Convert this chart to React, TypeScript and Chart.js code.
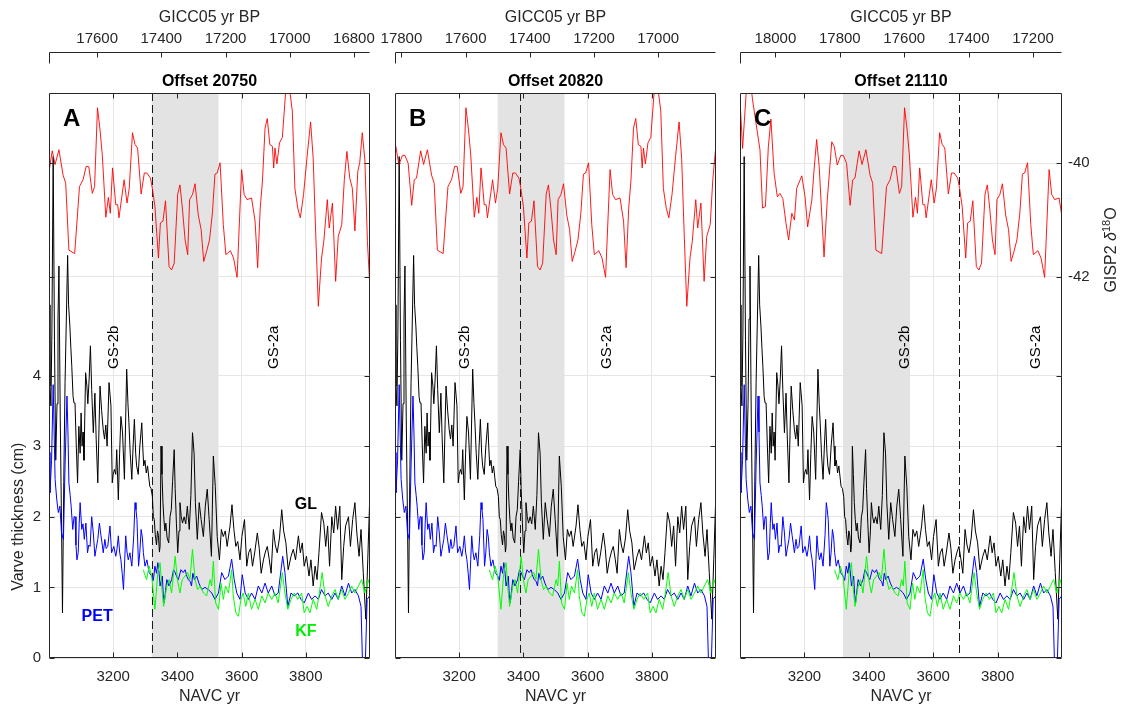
import React, { useEffect, useRef } from 'react';
import { Chart, registerables } from 'chart.js';
Chart.register(...registerables);

const FONT = "'Liberation Sans', Arial, Helvetica, sans-serif";
Chart.defaults.font.family = FONT;

// ---------- panel definitions ----------
const PANEL_LETTERS = ['A', 'B', 'C'];
const OFFSETS = [20750, 20820, 21110];
const PANEL_TITLES = ['Offset 20750', 'Offset 20820', 'Offset 21110'];
const GICC_TICKS = [
  [17600, 17400, 17200, 17000, 16800],
  [17800, 17600, 17400, 17200, 17000],
  [18000, 17800, 17600, 17400, 17200],
];
const NAVC_RANGE = [3000, 4000];
const NAVC_TICKS = [3200, 3400, 3600, 3800];
const VARVE_RANGE = [0, 8];
const VARVE_TICKS = [0, 1, 2, 3, 4];
const D18O_RANGE = [-48.72, -38.76];
const D18O_TICKS = [-42, -40];
const GS2_BOUNDARY_GICC = 17430;
const SHADE_NAVC = [3320, 3528];
const GS2B_LABEL_NAVC = [3203, 3218, 3511];
const GS2A_LABEL_NAVC = [3701, 3660, 3919];
const GS_LABEL_VALUE = 4.4;
const SERIES_LABELS = ['GL', 'PET', 'KF'];
const SERIES_LABEL_NAVC = [3800, 3150, 3800];
const SERIES_LABEL_VALUE = [2.17, 0.58, 0.375];

// ---------- data ----------
const GL_YR = [3000,3003,3006,3009,3013,3017,3021,3025,3028,3031,3035,3039,3042,3046,3050,3054,3058,3061,3065,3068,3071,3075,3078,3081,3085,3089,3093,3097,3100,3103,3106,3109,3114,3118,3121,3125,3129,3133,3138,3143,3147,3152,3156,3159,3164,3169,3173,3177,3181,3187,3193,3197,3200,3204,3208,3211,3216,3220,3224,3229,3235,3238,3242,3246,3249,3253,3258,3262,3266,3270,3273,3278,3283,3289,3292,3295,3299,3303,3307,3311,3314,3318,3322,3325,3328,3331,3335,3338,3341,3344,3346,3349,3352,3355,3358,3361,3364,3368,3373,3377,3381,3385,3390,3393,3397,3401,3405,3408,3412,3416,3421,3426,3431,3437,3442,3447,3452,3456,3462,3468,3474,3481,3487,3493,3499,3506,3512,3518,3524,3531,3537,3543,3549,3555,3564,3570,3576,3582,3588,3595,3601,3609,3616,3622,3628,3634,3641,3649,3655,3661,3668,3674,3680,3686,3692,3699,3705,3711,3718,3725,3731,3738,3745,3754,3761,3768,3777,3783,3789,3795,3802,3810,3816,3823,3829,3835,3841,3849,3856,3862,3868,3874,3881,3887,3893,3899,3906,3912,3918,3924,3933,3939,3946,3953,3959,3966,3972,3979,3987,3993,3999];
const GL_CM = [5.0,3.85,3.57,4.6,7.1,4.5,2.8,3.6,4.8,5.55,3.4,1.9,0.64,2.5,3.9,4.8,5.7,5.0,4.7,4.4,4.13,3.7,3.61,3.61,3.0,2.48,3.28,2.9,3.47,3.0,3.2,2.8,4.04,3.85,3.6,3.95,4.42,3.8,3.19,3.75,3.1,2.48,3.3,3.85,3.5,3.23,3.1,3.3,3.0,3.9,3.57,2.48,2.6,2.67,2.6,2.95,2.24,2.9,3.42,3.2,2.53,3.2,4.09,3.6,3.33,2.9,2.53,3.0,3.38,2.9,2.72,2.6,3.0,3.33,3.0,2.72,2.8,2.62,2.72,2.55,2.43,2.4,2.29,2.0,1.96,1.75,1.6,1.8,1.73,1.5,1.58,3.0,2.6,2.2,1.96,1.8,1.91,1.7,1.63,2.0,2.1,2.5,2.95,2.4,1.9,1.49,1.8,2.2,2.0,1.91,2.0,1.9,2.15,1.82,2.3,3.19,2.9,2.2,1.68,2.2,1.96,1.72,2.15,2.39,1.96,1.44,2.86,2.43,1.72,1.39,1.82,1.72,1.8,1.58,1.87,2.17,1.82,1.58,1.65,1.39,1.72,1.96,1.3,1.49,1.55,1.3,1.5,1.77,1.55,1.2,1.39,1.5,1.58,1.4,1.2,1.82,1.6,1.49,1.7,2.1,1.8,1.63,1.25,1.44,1.54,1.39,1.73,1.49,1.63,1.3,1.44,1.16,1.39,1.02,1.3,1.11,1.49,2.06,1.91,1.58,1.87,1.3,2.0,1.77,2.15,1.82,2.15,1.11,1.58,1.87,2.0,1.58,1.96,2.2,1.77,1.44,1.82,1.21,0.55,1.39,2.24];

const PET_YR = [3000,3003,3008,3013,3016,3019,3024,3029,3034,3039,3045,3050,3056,3059,3062,3066,3069,3074,3078,3081,3084,3087,3091,3094,3097,3102,3106,3110,3115,3120,3124,3128,3133,3138,3143,3147,3152,3157,3162,3166,3169,3174,3178,3183,3190,3195,3202,3208,3212,3216,3220,3224,3228,3232,3236,3239,3243,3247,3252,3258,3264,3268,3271,3274,3279,3283,3287,3291,3294,3299,3305,3312,3320,3325,3330,3335,3339,3343,3346,3350,3353,3356,3359,3363,3367,3374,3382,3388,3393,3398,3403,3411,3418,3424,3430,3434,3440,3444,3448,3453,3460,3467,3476,3486,3496,3507,3517,3528,3538,3548,3559,3569,3577,3585,3595,3602,3611,3621,3631,3642,3652,3663,3673,3683,3694,3704,3714,3728,3735,3744,3754,3764,3775,3785,3795,3808,3818,3829,3839,3849,3860,3870,3881,3891,3901,3912,3922,3933,3943,3953,3964,3972,3978,3984,3991,3999];
const PET_CM = [2.91,2.34,2.8,3.87,3.2,2.53,2.25,2.06,2.15,1.77,1.68,2.72,3.71,3.2,2.48,2.3,2.15,1.82,2.0,2.0,1.6,1.39,1.49,1.9,2.2,1.82,1.9,1.68,1.91,1.49,1.6,1.58,2.0,1.77,1.44,1.55,1.68,1.91,1.73,1.6,1.49,1.68,1.55,1.58,1.87,1.49,1.58,1.44,1.55,1.73,1.5,1.39,1.2,0.97,1.4,1.73,1.5,1.39,1.49,1.3,1.73,2.2,2.1,1.96,1.3,1.5,1.82,1.7,1.49,1.3,1.39,1.21,1.16,1.1,1.3,1.2,1.35,1.2,1.02,1.1,1.16,0.9,0.78,0.95,1.11,1.02,1.11,1.25,1.21,1.15,1.11,1.25,1.21,1.25,1.15,1.11,1.08,1.02,1.2,1.11,1.16,1.06,0.97,1.0,0.97,0.92,0.83,0.92,1.21,1.11,1.16,1.4,1.11,0.92,0.83,1.18,0.92,0.83,0.92,0.83,1.02,0.92,1.06,0.92,1.02,0.88,0.92,1.44,1.21,0.73,0.92,0.88,0.92,0.83,0.78,0.92,0.83,0.88,0.83,0.97,0.88,0.92,0.83,0.92,0.83,1.02,0.88,1.06,0.92,0.97,0.88,0.73,-0.3,-0.3,0.83,0.88];

const KF_YR = [3294,3297,3304,3312,3320,3325,3330,3339,3346,3351,3357,3367,3374,3382,3393,3400,3408,3415,3424,3432,3439,3447,3455,3463,3471,3481,3491,3502,3507,3512,3519,3528,3536,3543,3550,3559,3569,3574,3582,3590,3598,3605,3613,3621,3631,3642,3652,3663,3673,3683,3694,3704,3714,3727,3735,3744,3754,3764,3775,3787,3795,3804,3813,3823,3834,3841,3851,3860,3870,3881,3891,3901,3912,3922,3933,3943,3953,3964,3974,3984,3994,4000];
const KF_CM = [1.25,1.2,1.11,1.3,1.16,0.92,0.69,1.21,1.35,1.02,0.73,1.02,1.11,0.92,1.44,1.11,0.92,1.11,1.16,1.21,1.11,1.54,1.11,0.97,1.02,0.92,0.88,1.11,1.02,1.37,0.78,0.69,1.06,0.83,1.02,0.92,1.25,0.88,0.64,0.59,0.83,0.92,0.73,0.92,0.69,0.83,0.69,0.88,0.78,0.92,0.83,0.92,0.78,1.21,0.92,0.69,0.83,0.92,0.83,0.92,0.64,0.73,0.64,0.83,0.69,0.88,1.21,0.88,0.73,0.88,0.97,0.83,0.97,0.83,0.92,1.02,0.92,1.02,1.11,0.92,1.11,1.02];

const GISP2_AGE = [18110,18102,18089,18079,18071,18060,18048,18040,18031,18022,18014,18004,17994,17986,17977,17967,17959,17949,17941,17934,17918,17908,17900,17887,17880,17872,17864,17849,17839,17825,17817,17808,17797,17789,17779,17768,17760,17753,17740,17731,17719,17706,17698,17688,17670,17655,17644,17634,17626,17615,17608,17599,17591,17584,17573,17565,17559,17552,17542,17536,17532,17516,17507,17500,17490,17482,17474,17463,17453,17445,17434,17428,17420,17409,17403,17395,17387,17376,17368,17360,17349,17342,17334,17326,17318,17312,17303,17295,17285,17276,17268,17259,17250,17241,17233,17226,17217,17207,17199,17185,17175,17164,17150,17142,17133,17119,17108,17100,17092,17085,17077,17070,17062,17054,17050,17046,17040,17032,17023,17013,17007,16999,16992,16984,16975,16967,16957,16946,16935,16927,16919,16911,16901,16894,16883,16877,16867,16857,16849,16838,16830,16822,16813,16805,16797,16788,16782,16774,16766,16758,16750];
const GISP2_D18O = [-38.88,-39.74,-38.6,-38.5,-38.88,-39.3,-39.76,-40.79,-40.76,-39.71,-39.22,-40.18,-40.59,-40.53,-40.62,-41.06,-41.35,-40.88,-41.0,-40.44,-40.22,-40.59,-41.12,-40.65,-40.12,-39.58,-40.06,-41.65,-40.65,-39.62,-39.71,-40.03,-39.86,-39.86,-40.0,-40.74,-40.29,-40.26,-39.78,-40.02,-39.76,-40.21,-40.35,-41.53,-41.59,-40.41,-40.29,-40.05,-40.06,-40.53,-40.41,-39.02,-39.41,-39.85,-40.95,-40.6,-40.88,-40.08,-40.73,-40.73,-40.96,-40.29,-40.7,-40.44,-39.46,-39.67,-39.73,-40.54,-40.17,-40.17,-40.26,-40.44,-40.76,-41.67,-41.05,-41.02,-40.66,-41.82,-41.88,-41.76,-40.54,-40.38,-40.82,-41.35,-41.61,-40.64,-40.55,-40.36,-40.91,-41.17,-41.73,-41.55,-41.35,-40.88,-40.19,-40.17,-39.99,-41.08,-41.61,-41.54,-41.67,-42.01,-40.11,-40.55,-40.64,-40.61,-41.02,-41.84,-40.79,-40.31,-39.38,-39.21,-39.67,-39.7,-40.08,-39.73,-40.01,-39.64,-39.54,-38.76,-38.5,-38.76,-39.08,-40.44,-40.79,-40.96,-40.55,-39.88,-39.27,-39.91,-41.26,-42.52,-41.67,-41.38,-40.64,-41.14,-40.7,-42.08,-41.29,-41.08,-40.29,-39.79,-40.26,-40.44,-41.19,-40.14,-39.99,-39.46,-39.94,-41.38,-42.23];

// ---------- layout (page pixels) ----------
const PAGE_W = 1122;
const PAGE_H = 705;
const PLOT_LEFT = [49, 395, 740];
const PLOT_RIGHT = [370, 716, 1062];
const AXIS_COLOR = '#262626';
const GRID_COLOR = '#e6e6e6';

const pairs = (xs: number[], ys: number[]) => xs.map((x, i) => ({ x, y: ys[i] }));

function makePlugin(p: number) {
  return {
    id: 'panelDecor' + p,
    beforeDatasetsDraw(chart: any) {
      const { ctx, chartArea: ca, scales } = chart;
      const x = scales.x;
      const x2 = scales.x2;
      ctx.save();
      const s0 = x.getPixelForValue(SHADE_NAVC[0]);
      const s1 = x.getPixelForValue(SHADE_NAVC[1]);
      ctx.fillStyle = '#e3e3e3';
      ctx.fillRect(s0, ca.top, s1 - s0, ca.bottom - ca.top);
      const bx = Math.round(x2.getPixelForValue(GS2_BOUNDARY_GICC)) + 0.5;
      ctx.strokeStyle = '#1a1a1a';
      ctx.lineWidth = 1;
      ctx.setLineDash([8, 4]);
      ctx.beginPath();
      ctx.moveTo(bx, ca.top);
      ctx.lineTo(bx, ca.bottom);
      ctx.stroke();
      ctx.restore();
    },
    afterDatasetsDraw(chart: any) {
      const { ctx, chartArea: ca, scales } = chart;
      const x = scales.x, y = scales.y, x2 = scales.x2, y2 = scales.y2;
      ctx.save();
      const rot = (t: string, px: number, py: number, font: string, color: string) => {
        ctx.save();
        ctx.translate(px, py);
        ctx.rotate(-Math.PI / 2);
        ctx.font = font;
        ctx.fillStyle = color;
        ctx.textAlign = 'center';
        ctx.textBaseline = 'middle';
        ctx.fillText(t, 0, 0);
        ctx.restore();
      };
      rot('GS-2b', x.getPixelForValue(GS2B_LABEL_NAVC[p]), y.getPixelForValue(GS_LABEL_VALUE), `15px ${FONT}`, '#000');
      rot('GS-2a', x.getPixelForValue(GS2A_LABEL_NAVC[p]), y.getPixelForValue(GS_LABEL_VALUE), `15px ${FONT}`, '#000');

      ctx.font = `bold 24px ${FONT}`;
      ctx.fillStyle = '#000';
      ctx.textAlign = 'left';
      ctx.textBaseline = 'alphabetic';
      ctx.fillText(PANEL_LETTERS[p], ca.left + 14, ca.top + 33);

      if (p === 0) {
        const cols = ['#000000', '#0000ff', '#00ee00'];
        ctx.font = `bold 16px ${FONT}`;
        ctx.textAlign = 'center';
        ctx.textBaseline = 'middle';
        SERIES_LABELS.forEach((lab, i) => {
          ctx.fillStyle = cols[i];
          ctx.fillText(lab, x.getPixelForValue(SERIES_LABEL_NAVC[i]), y.getPixelForValue(SERIES_LABEL_VALUE[i]));
        });
        const cy = (y.getPixelForValue(VARVE_TICKS[0]) + y.getPixelForValue(VARVE_TICKS[VARVE_TICKS.length - 1])) / 2;
        rot('Varve thickness (cm)', 19, cy, `16px ${FONT}`, AXIS_COLOR);
      }

      if (p === 2) {
        ctx.save();
        ctx.translate(ca.right + 48, ca.top + 157);
        ctx.rotate(-Math.PI / 2);
        const parts = [
          { t: 'GISP2 ', f: `16px ${FONT}`, dy: 0 },
          { t: 'δ', f: `italic 16px ${FONT}`, dy: 0 },
          { t: '18', f: `11px ${FONT}`, dy: -6 },
          { t: 'O', f: `16px ${FONT}`, dy: 0 },
        ];
        let total = 0;
        parts.forEach((pt) => { ctx.font = pt.f; total += ctx.measureText(pt.t).width; });
        let cx = -total / 2;
        ctx.fillStyle = AXIS_COLOR;
        ctx.textAlign = 'left';
        ctx.textBaseline = 'alphabetic';
        parts.forEach((pt) => {
          ctx.font = pt.f;
          ctx.fillText(pt.t, cx, 5.5 + pt.dy);
          cx += ctx.measureText(pt.t).width;
        });
        ctx.restore();
      }

      const L = Math.round(ca.left) + 0.5, R = Math.round(ca.right) - 0.5;
      const T = Math.round(ca.top) + 0.5, B = Math.round(ca.bottom) - 0.5;
      ctx.strokeStyle = AXIS_COLOR;
      ctx.lineWidth = 1;
      ctx.setLineDash([]);
      ctx.beginPath();
      ctx.rect(L, T, R - L, B - T);
      const tk = 5;
      NAVC_TICKS.forEach((v) => {
        const px = Math.round(x.getPixelForValue(v)) + 0.5;
        ctx.moveTo(px, B); ctx.lineTo(px, B - tk);
        ctx.moveTo(px, T); ctx.lineTo(px, T + tk);
      });
      VARVE_TICKS.forEach((v) => {
        const py = Math.round(y.getPixelForValue(v)) + 0.5;
        ctx.moveTo(L, py); ctx.lineTo(L + tk, py);
        ctx.moveTo(R, py); ctx.lineTo(R - tk, py);
      });
      D18O_TICKS.forEach((v) => {
        const py = Math.round(y2.getPixelForValue(v)) + 0.5;
        ctx.moveTo(L, py); ctx.lineTo(L + tk, py);
        ctx.moveTo(R, py); ctx.lineTo(R - tk, py);
      });
      const ty = Math.round(x2.bottom) + 0.5;
      ctx.moveTo(L, ty); ctx.lineTo(R, ty);
      ctx.moveTo(L, ty); ctx.lineTo(L, ty + 11);
      GICC_TICKS[p].forEach((v) => {
        const px = Math.round(x2.getPixelForValue(v)) + 0.5;
        ctx.moveTo(px, ty); ctx.lineTo(px, ty + 5);
      });
      ctx.stroke();
      ctx.restore();
    },
  };
}

function Panel({ p }: { p: number }) {
  const ref = useRef<HTMLCanvasElement>(null);
  useEffect(() => {
    if (!ref.current) return;
    const off = OFFSETS[p];
    const leftW = p === 0 ? 49 : 1;
    const rightW = p === 2 ? 60 : 1;
    const tickFont = { size: 15, family: FONT };
    const chart = new Chart(ref.current, {
      type: 'line',
      data: {
        datasets: [
          { label: 'GISP2', data: pairs(GISP2_AGE, GISP2_D18O), xAxisID: 'x2', yAxisID: 'y2', borderColor: '#ff0000', borderWidth: 0.9, pointRadius: 0, tension: 0, order: 0 },
          { label: 'KF', data: pairs(KF_YR, KF_CM), xAxisID: 'x', yAxisID: 'y', borderColor: '#00ff00', borderWidth: 1, pointRadius: 0, tension: 0, order: 1 },
          { label: 'PET', data: pairs(PET_YR, PET_CM), xAxisID: 'x', yAxisID: 'y', borderColor: '#0000ff', borderWidth: 1, pointRadius: 0, tension: 0, order: 2 },
          { label: 'GL', data: pairs(GL_YR, GL_CM), xAxisID: 'x', yAxisID: 'y', borderColor: '#000000', borderWidth: 1, pointRadius: 0, tension: 0, order: 3 },
        ],
      } as any,
      options: {
        responsive: false,
        animation: false,
        events: [],
        layout: {
          padding: { left: PLOT_LEFT[p] - leftW, right: PAGE_W - PLOT_RIGHT[p] - rightW, top: 0, bottom: 0 },
        },
        plugins: {
          legend: { display: false },
          tooltip: { enabled: false },
          title: {
            display: true,
            text: PANEL_TITLES[p],
            fullSize: false,
            color: '#000',
            font: { size: 16, weight: 'bold', family: FONT, lineHeight: 1.2 },
            padding: { top: 20, bottom: 1.8 },
          },
        },
        scales: {
          x: {
            type: 'linear',
            position: 'bottom',
            min: NAVC_RANGE[0],
            max: NAVC_RANGE[1],
            afterBuildTicks: (s: any) => { s.ticks = NAVC_TICKS.map((v) => ({ value: v })); },
            afterFit: (s: any) => { s.height = 47; },
            ticks: { autoSkip: false, maxRotation: 0, padding: 10, color: AXIS_COLOR, font: tickFont, callback: (v: any) => String(v) },
            grid: { color: GRID_COLOR, drawTicks: false, lineWidth: 1 },
            border: { display: false },
            title: { display: true, text: 'NAVC yr', color: AXIS_COLOR, font: { size: 16, family: FONT, lineHeight: 1.1 }, padding: { top: 0, bottom: 0 } },
          },
          x2: {
            type: 'linear',
            position: 'top',
            reverse: true,
            weight: 3000,
            min: off - NAVC_RANGE[1],
            max: off - NAVC_RANGE[0],
            afterBuildTicks: (s: any) => { s.ticks = GICC_TICKS[p].map((v) => ({ value: v })); },
            afterFit: (s: any) => { s.height = 52; },
            ticks: { autoSkip: false, maxRotation: 0, padding: 4, color: AXIS_COLOR, font: tickFont, callback: (v: any) => String(v) },
            grid: { display: false, drawTicks: false, drawOnChartArea: false },
            border: { display: false },
            title: { display: true, text: 'GICC05 yr BP', color: AXIS_COLOR, font: { size: 16, family: FONT, lineHeight: 1.2 }, padding: { top: 8, bottom: 0 } },
          },
          y: {
            type: 'linear',
            position: 'left',
            min: VARVE_RANGE[0],
            max: VARVE_RANGE[1],
            afterBuildTicks: (s: any) => { s.ticks = VARVE_TICKS.map((v) => ({ value: v })); },
            afterFit: (s: any) => { s.width = leftW; },
            ticks: { display: p === 0, padding: 8, color: AXIS_COLOR, font: tickFont, callback: (v: any) => String(v) },
            grid: { color: GRID_COLOR, drawTicks: false, lineWidth: 1 },
            border: { display: false },
          },
          y2: {
            type: 'linear',
            position: 'right',
            min: D18O_RANGE[0],
            max: D18O_RANGE[1],
            afterBuildTicks: (s: any) => { s.ticks = D18O_TICKS.map((v) => ({ value: v })); },
            afterFit: (s: any) => { s.width = rightW; },
            ticks: { display: p === 2, padding: 6, color: AXIS_COLOR, font: tickFont, callback: (v: any) => String(v) },
            grid: { color: GRID_COLOR, drawTicks: false, lineWidth: 1 },
            border: { display: false },
          },
        },
      } as any,
      plugins: [makePlugin(p)],
    });
    return () => chart.destroy();
  }, [p]);
  return (
    <canvas
      ref={ref}
      width={PAGE_W}
      height={PAGE_H}
      style={{ position: 'absolute', left: 0, top: 0, width: PAGE_W, height: PAGE_H }}
    />
  );
}

export default function App() {
  return (
    <div style={{ position: 'fixed', left: 0, top: 0, width: PAGE_W, height: PAGE_H, background: '#ffffff', overflow: 'hidden' }}>
      {[0, 1, 2].map((p) => (
        <Panel key={p} p={p} />
      ))}
    </div>
  );
}
